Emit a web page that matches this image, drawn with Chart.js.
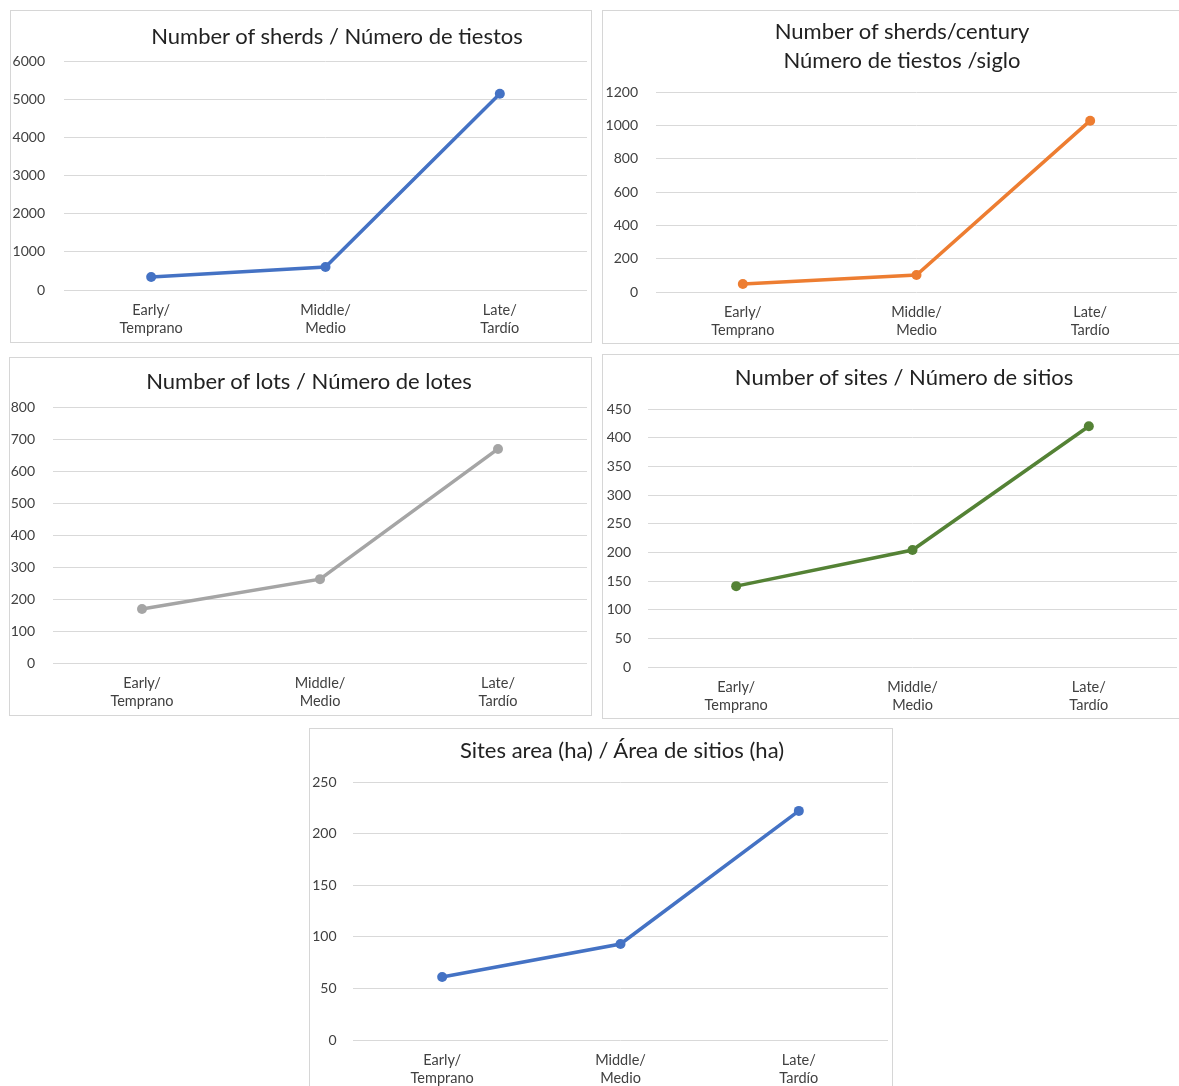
<!DOCTYPE html>
<html>
<head>
<meta charset="utf-8">
<script src="https://cdn.jsdelivr.net/npm/chart.js@4.4.1/dist/chart.umd.min.js"></script>
<style>
  html, body { margin: 0; padding: 0; background: #ffffff; }
  body { width: 1179px; height: 1086px; position: relative; overflow: hidden; font-family: Lato, "Open Sans", sans-serif; }
  .panel { position: absolute; box-sizing: border-box; border: 1px solid #d6d6d6; background: #fff; }
  .wrap { position: absolute; left: -1px; top: -1px; }
  .title { position: absolute; transform: translate(-50%, -50%); white-space: nowrap; text-align: center;
           font-family: Lato, "Open Sans", sans-serif; font-size: 22px; line-height: 29px; color: #222222; }
</style>
</head>
<body>
<script>
// ---- data ----
const categories = [['Early/', 'Temprano'], ['Middle/', 'Medio'], ['Late/', 'Tardío']];
const sherds = [340, 603, 5140];
const sherdsPerCentury = [48, 102, 1028];
const lots = [169, 262, 669];
const sites = [141, 204, 420];
const siteArea = [61, 93, 222];

const titleSherds = ['Number of sherds / Número de tiestos'];
const titleSherdsCentury = ['Number of sherds/century', 'Número de tiestos /siglo'];
const titleLots = ['Number of lots / Número de lotes'];
const titleSites = ['Number of sites / Número de sitios'];
const titleArea = ['Sites area (ha) / Área de sitios (ha)'];

const yMax = [6000, 1200, 800, 450, 250];
const yStep = [1000, 200, 100, 50, 50];

// ---- layout (panel box, plot box, title centre, y-label gap) ----
const panels = [
  { data: sherds, title: titleSherds, color: '#4472C4', max: yMax[0], step: yStep[0],
    x: 10, y: 10, w: 582, h: 333, L: 54, R: 580, T: 51, B: 280, tx: 326, ty: 24, pad: 19 },
  { data: sherdsPerCentury, title: titleSherdsCentury, color: '#ED7D31', max: yMax[1], step: yStep[1],
    x: 602, y: 10, w: 580, h: 334, L: 54, R: 578, T: 82, B: 282, tx: 299, ty: 33.5, pad: 18 },
  { data: lots, title: titleLots, color: '#A5A5A5', max: yMax[2], step: yStep[2],
    x: 9, y: 357, w: 583, h: 359, L: 44, R: 581, T: 50, B: 306, tx: 299, ty: 22, pad: 18 },
  { data: sites, title: titleSites, color: '#548235', max: yMax[3], step: yStep[3],
    x: 602, y: 354, w: 580, h: 365, L: 46, R: 579, T: 55, B: 313, tx: 301, ty: 21, pad: 17 },
  { data: siteArea, title: titleArea, color: '#4472C4', max: yMax[4], step: yStep[4],
    x: 309, y: 728, w: 584, h: 362, L: 44, R: 582, T: 54, B: 312, tx: 312, ty: 20, pad: 16.5 }
];

panels.forEach((p, i) => {
  const panel = document.createElement('div');
  panel.className = 'panel';
  Object.assign(panel.style, { left: p.x + 'px', top: p.y + 'px', width: p.w + 'px', height: p.h + 'px' });
  const wrap = document.createElement('div');
  wrap.className = 'wrap';
  Object.assign(wrap.style, { width: p.w + 'px', height: p.h + 'px' });
  const canvas = document.createElement('canvas');
  wrap.appendChild(canvas);
  panel.appendChild(wrap);
  const t = document.createElement('div');
  t.className = 'title';
  t.innerHTML = p.title.join('<br>');
  Object.assign(t.style, { left: p.tx + 'px', top: p.ty + 'px' });
  panel.appendChild(t);
  document.body.appendChild(panel);

  const yWidth = p.L, xHeight = p.h - p.B;
  new Chart(canvas, {
    type: 'line',
    data: {
      labels: categories,
      datasets: [{
        data: p.data,
        borderColor: p.color,
        backgroundColor: p.color,
        borderWidth: 3.5,
        pointRadius: 5,
        pointBorderWidth: 0,
        pointBackgroundColor: p.color,
        tension: 0,
        fill: false
      }]
    },
    options: {
      responsive: true,
      maintainAspectRatio: false,
      animation: false,
      devicePixelRatio: 1,
      layout: { padding: { left: 0, top: p.T, right: p.w - p.R, bottom: 0 } },
      plugins: { legend: { display: false }, title: { display: false }, tooltip: { enabled: false } },
      scales: {
        x: {
          type: 'category',
          offset: true,
          grid: { display: false, drawTicks: false },
          border: { display: false },
          ticks: {
            color: '#404040', padding: 11, maxRotation: 0, autoSkip: false,
            font: { family: 'Lato, "Open Sans", sans-serif', size: 14.5, lineHeight: '18px' }
          },
          afterFit: (s) => { s.height = xHeight; }
        },
        y: {
          min: 0, max: p.max,
          grid: { color: '#d9d9d9', lineWidth: 1, drawTicks: false },
          border: { display: false },
          ticks: {
            stepSize: p.step, color: '#404040', padding: p.pad,
            font: { family: 'Lato, "Open Sans", sans-serif', size: 14 },
            callback: (v) => String(v)
          },
          afterFit: (s) => { s.width = yWidth; }
        }
      }
    }
  });
});
</script>
</body>
</html>
